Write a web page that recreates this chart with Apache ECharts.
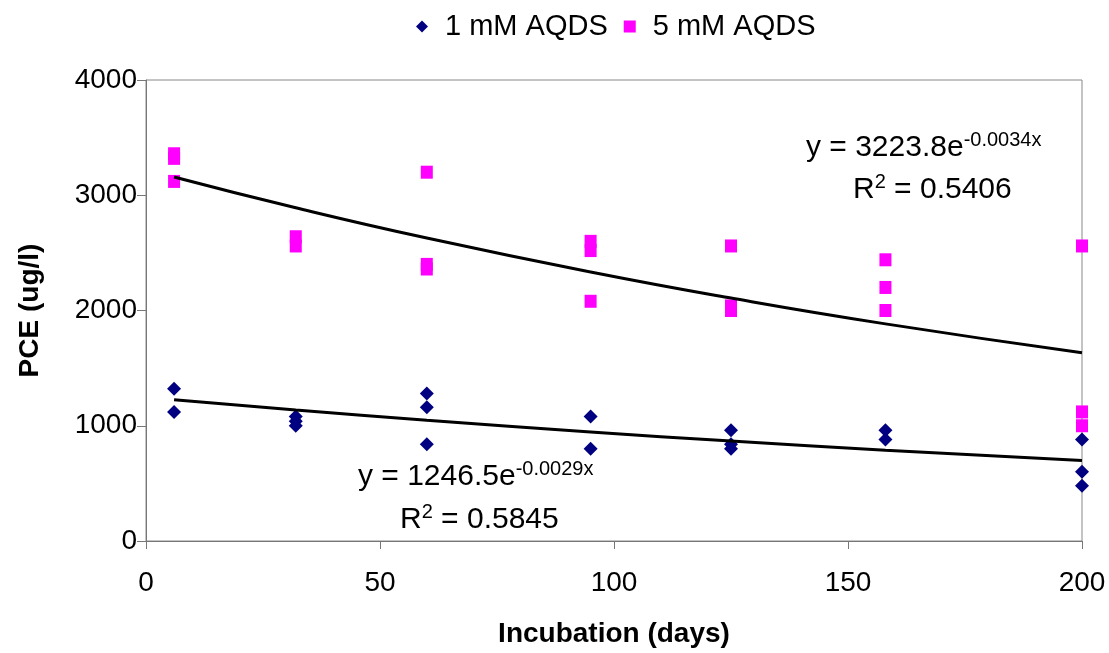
<!DOCTYPE html>
<html>
<head>
<meta charset="utf-8">
<script src="https://cdn.jsdelivr.net/npm/echarts@6/dist/echarts.min.js"></script>
<style>
html, body { margin: 0; padding: 0; background: #fff; }
#chart { width: 1109px; height: 653px; }
</style>
</head>
<body>
<div id="chart"></div>
<script>
// PCE vs incubation time, two AQDS concentrations
var days1mM = [6, 6, 32, 32, 32, 60, 60, 60, 95, 95, 125, 125, 125, 158, 158, 200, 200, 200];
var pce1mM  = [1320, 1120, 1080, 1040, 1000, 1280, 1160, 840, 1080, 800, 960, 840, 800, 960, 880, 880, 600, 480];

var days5mM = [6, 6, 6, 32, 32, 60, 60, 60, 95, 95, 95, 125, 125, 125, 158, 158, 158, 200, 200, 200];
var pce5mM  = [3360, 3320, 3120, 2640, 2560, 3200, 2400, 2360, 2600, 2520, 2080, 2560, 2040, 2000, 2440, 2200, 2000, 2560, 1120, 1000];

// exponential trendlines as printed on the chart: y = a * e^(b x)
var trendDays = [6, 32, 60, 95, 125, 158, 200];
var trend1mM = [1246.5, -0.0029];
var trend5mM = [3223.8, -0.0034];

var xTicks = [0, 50, 100, 150, 200];
var yTicks = [0, 1000, 2000, 3000, 4000];

function pairs(xs, ys) {
    var out = [];
    for (var i = 0; i < xs.length; i++) {
        out.push([xs[i], ys[i]]);
    }
    return out;
}

function trendLine(coef) {
    var out = [];
    for (var i = 0; i < trendDays.length; i++) {
        out.push([trendDays[i], coef[0] * Math.exp(coef[1] * trendDays[i])]);
    }
    return out;
}

var font = 'Arial, "Liberation Sans", sans-serif';
var eqRich = {
    m: { fontSize: 30, lineHeight: 36, fontFamily: font, fill: '#000' },
    s: { fontSize: 20, lineHeight: 13, verticalAlign: 'top', fontFamily: font, fill: '#000' }
};

var chart = echarts.init(document.getElementById('chart'));

chart.setOption({
    animation: false,
    backgroundColor: '#fff',
    textStyle: { fontFamily: font, color: '#000' },
    legend: {
        left: 411,
        top: 7,
        itemWidth: 12,
        itemHeight: 12,
        itemGap: 16,
        textStyle: { fontSize: 29, color: '#000', fontFamily: font, padding: [0, 0, 0, 12] },
        data: [
            { name: '1 mM AQDS', icon: 'diamond' },
            { name: '5 mM AQDS', icon: 'rect' }
        ]
    },
    grid: {
        left: 146,
        right: 27,
        top: 80,
        bottom: 109,
        show: true,
        borderColor: '#888',
        borderWidth: 1
    },
    xAxis: {
        type: 'value',
        min: xTicks[0],
        max: xTicks[xTicks.length - 1],
        interval: 50,
        name: 'Incubation (days)',
        nameLocation: 'middle',
        nameGap: 79,
        nameTextStyle: { fontSize: 28, fontWeight: 'bold', color: '#000', fontFamily: font },
        axisLine: { lineStyle: { color: '#777', width: 1 } },
        axisTick: { inside: false, length: 8, lineStyle: { color: '#777' } },
        axisLabel: { fontSize: 28, color: '#000', margin: 28 },
        splitLine: { show: false }
    },
    yAxis: {
        type: 'value',
        min: yTicks[0],
        max: yTicks[yTicks.length - 1],
        interval: 1000,
        name: 'PCE (ug/l)',
        nameLocation: 'middle',
        nameGap: 102,
        nameTextStyle: { fontSize: 28, fontWeight: 'bold', color: '#000', fontFamily: font },
        axisLine: { show: true, lineStyle: { color: '#777', width: 1 } },
        axisTick: { show: true, inside: false, length: 9, lineStyle: { color: '#777' } },
        axisLabel: {
            fontSize: 28, color: '#000', margin: 9,
            formatter: function (v) { return String(v); }
        },
        splitLine: { show: false }
    },
    series: [
        {
            name: '1 mM AQDS',
            type: 'scatter',
            symbol: 'diamond',
            symbolSize: 14,
            itemStyle: { color: '#000080', opacity: 1 },
            data: pairs(days1mM, pce1mM),
            z: 2
        },
        {
            name: '5 mM AQDS',
            type: 'scatter',
            symbol: 'rect',
            symbolSize: [12, 13],
            itemStyle: { color: '#ff00ff', opacity: 1 },
            data: pairs(days5mM, pce5mM),
            z: 2
        },
        {
            name: 'trend1',
            type: 'line',
            smooth: true,
            showSymbol: false,
            lineStyle: { color: '#000', width: 3 },
            data: trendLine(trend1mM),
            silent: true,
            z: 3
        },
        {
            name: 'trend5',
            type: 'line',
            smooth: true,
            showSymbol: false,
            lineStyle: { color: '#000', width: 3 },
            data: trendLine(trend5mM),
            silent: true,
            z: 3
        }
    ],
    graphic: [
        {
            type: 'text', left: 806, top: 130,
            style: { text: '{m|y = 3223.8e}{s|-0.0034x}', rich: eqRich }
        },
        {
            type: 'text', left: 853, top: 172,
            style: { text: '{m|R}{s|2}{m| = 0.5406}', rich: eqRich }
        },
        {
            type: 'text', left: 358, top: 459,
            style: { text: '{m|y = 1246.5e}{s|-0.0029x}', rich: eqRich }
        },
        {
            type: 'text', left: 400, top: 502,
            style: { text: '{m|R}{s|2}{m| = 0.5845}', rich: eqRich }
        }
    ]
});
</script>
</body>
</html>
